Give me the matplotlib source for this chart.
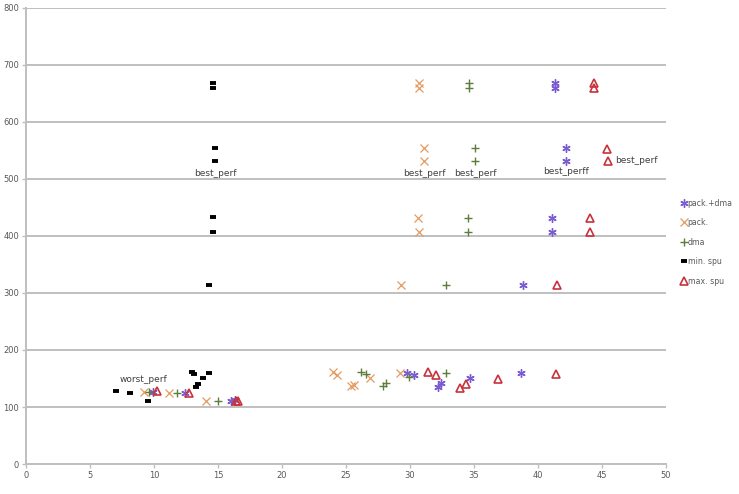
import matplotlib.pyplot as plt

# data
pack_dma_x = [9.9, 12.4, 16.0, 16.3, 29.8, 30.3, 32.2, 32.4, 34.7, 38.7, 38.8, 41.1, 41.1, 42.2, 42.2, 41.3, 41.3]
pack_dma_y = [127, 124, 110, 112, 160, 157, 135, 142, 151, 159, 314, 407, 431, 532, 554, 660, 668]

pack_x = [9.2, 11.2, 14.1, 24.0, 24.3, 25.4, 25.6, 26.9, 29.2, 29.3, 30.6, 30.7, 31.1, 31.1, 30.7, 30.7]
pack_y = [127, 124, 110, 161, 157, 137, 139, 151, 160, 314, 431, 407, 532, 554, 660, 668]

dma_x = [9.6, 11.8, 15.0, 26.2, 26.6, 27.9, 28.1, 29.9, 32.8, 32.8, 34.5, 34.5, 35.1, 35.1, 34.6, 34.6]
dma_y = [127, 124, 110, 162, 158, 137, 142, 153, 159, 314, 407, 431, 532, 554, 660, 668]

min_spu_x = [7.0, 8.1, 9.5, 13.0, 13.1, 13.8, 14.3, 13.4, 13.3, 14.3, 14.6, 14.6, 14.8, 14.8, 14.6, 14.6]
min_spu_y = [128, 124, 110, 161, 158, 151, 159, 140, 135, 314, 407, 433, 532, 554, 660, 668]

max_spu_x = [10.2, 12.7, 16.4, 16.6, 31.4, 32.0, 33.9, 34.4, 36.9, 41.4, 41.5, 44.1, 44.1, 45.5, 45.4, 44.4, 44.4]
max_spu_y = [128, 124, 110, 110, 161, 157, 133, 140, 149, 158, 314, 407, 431, 532, 552, 660, 668]

fig = plt.figure(figsize=(7.39, 4.94), dpi=100)
ax = fig.add_axes([0.0352, 0.0607, 0.8660, 0.9233])

ax.plot(pack_dma_x, pack_dma_y, ls='none', marker=(6, 2, 0), ms=6, mew=1.0,
        color='#7a5cd0', label='pack.+dma')
ax.plot(pack_x, pack_y, ls='none', marker='x', ms=5.5, mew=0.9,
        color='#e39a62', label='pack.')
ax.plot(dma_x, dma_y, ls='none', marker='+', ms=6, mew=1.0,
        color='#5e7d3a', label='dma')
ax.plot(min_spu_x, min_spu_y, ls='none', marker='_', ms=4.5, mew=2.8,
        color='black', label='min. spu')
ax.plot(max_spu_x, max_spu_y, ls='none', marker='^', ms=5.5, mew=1.2,
        mfc='none', color='#c8323c', label='max. spu')

# data labels
lab = dict(fontsize=6.5, color='#404040', textcoords='offset points')
ax.annotate('best_perf', (min_spu_x[12], min_spu_y[12]), xytext=(0, -9), ha='center', va='center', **lab)
ax.annotate('best_perf', (pack_x[12], pack_y[12]), xytext=(0, -9), ha='center', va='center', **lab)
ax.annotate('best_perf', (dma_x[12], dma_y[12]), xytext=(0, -9), ha='center', va='center', **lab)
ax.annotate('best_perff', (pack_dma_x[13], pack_dma_y[13]), xytext=(0, -8), ha='center', va='center', **lab)
ax.annotate('best_perf', (max_spu_x[13], max_spu_y[13]), xytext=(5, 0), ha='left', va='center', **lab)
ax.annotate('worst_perf', (pack_x[0], pack_y[0]), xytext=(0, 9), ha='center', va='center', **lab)

ax.set_xlim(0, 50)
ax.set_ylim(0, 800)
ax.set_xticks(range(0, 51, 5))
ax.set_yticks(range(0, 801, 100))
ax.yaxis.grid(True, color='#bfbfbf', lw=1.4)
ax.set_axisbelow(True)
for s in ['top', 'right']:
    ax.spines[s].set_visible(False)
for s in ['left', 'bottom']:
    ax.spines[s].set_color('#bfbfbf')
    ax.spines[s].set_linewidth(1.4)
ax.tick_params(colors='#bfbfbf', labelcolor='#595959', labelsize=6, length=3, width=1, pad=2)

fig.legend(loc='center left', bbox_to_anchor=(0.922, 0.51), frameon=False,
           fontsize=5.6, handlelength=0.6, handletextpad=0.2, labelspacing=1.35,
           borderpad=0, borderaxespad=0, labelcolor='#595959')

fig.savefig('out.png', dpi=100)
